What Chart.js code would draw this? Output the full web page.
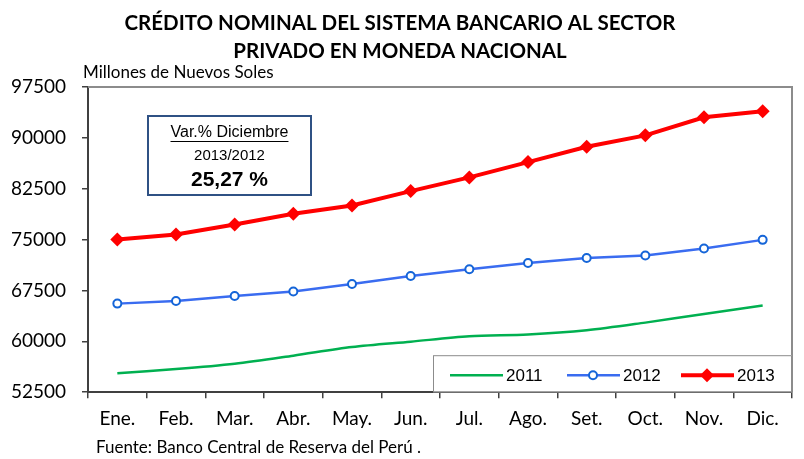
<!DOCTYPE html>
<html>
<head>
<meta charset="utf-8">
<script src="https://cdn.jsdelivr.net/npm/chart.js@4"></script>
<style>
  html, body { margin: 0; padding: 0; background: #fff; }
  #wrap { width: 804px; height: 459px; position: relative; }
</style>
</head>
<body>
<div id="wrap"><canvas id="lineChart"></canvas></div>
<script>
const months = ['Ene.', 'Feb.', 'Mar.', 'Abr.', 'May.', 'Jun.', 'Jul.', 'Ago.', 'Set.', 'Oct.', 'Nov.', 'Dic.'];
const credit2011 = [55280, 55910, 56710, 57890, 59160, 59950, 60740, 60990, 61620, 62760, 64030, 65270];
const credit2012 = [65560, 65950, 66690, 67340, 68460, 69640, 70630, 71560, 72300, 72650, 73690, 74960];
const credit2013 = [75010, 75750, 77230, 78800, 80030, 82150, 84170, 86430, 88690, 90370, 93030, 93910];
const titleLines = ['CRÉDITO NOMINAL DEL SISTEMA BANCARIO AL SECTOR', 'PRIVADO EN MONEDA NACIONAL'];
const unitLabel = 'Millones de Nuevos Soles';
const sourceLabel = 'Fuente: Banco Central de Reserva del Perú .';
const noteLines = ['Var.% Diciembre', '2013/2012', '25,27 %'];

const calibri = 'Lato, "Open Sans", sans-serif';
const arial = '"Liberation Sans", Arial, sans-serif';

// Textos, recuadro y leyenda dibujados a mano
const extras = {
    id: 'extras',
    afterDatasetsDraw(chart) {
        const ctx = chart.ctx;
        const a = chart.chartArea;
        ctx.save();

        // borde gris del area
        ctx.strokeStyle = '#8c8c8c';
        ctx.lineWidth = 2;
        ctx.beginPath();
        ctx.moveTo(a.left, a.top);
        ctx.lineTo(a.right, a.top);
        ctx.lineTo(a.right, a.bottom);
        ctx.stroke();

        // titulo
        ctx.fillStyle = '#000';
        ctx.textAlign = 'center';
        ctx.textBaseline = 'middle';
        ctx.font = 'bold 20.5px ' + calibri;
        ctx.fillText(titleLines[0], 400, 23);
        ctx.fillText(titleLines[1], 400, 51);

        ctx.textAlign = 'left';
        ctx.font = '17px ' + calibri;
        ctx.fillText(unitLabel, 83, 73);
        ctx.fillText(sourceLabel, 96, 448);

        // recuadro de variacion
        ctx.fillStyle = '#fff';
        ctx.fillRect(148, 116, 163, 79);
        ctx.strokeStyle = '#2f5184';
        ctx.lineWidth = 2;
        ctx.strokeRect(148, 116, 163, 79);
        ctx.fillStyle = '#000';
        ctx.textAlign = 'center';
        ctx.font = '16px ' + arial;
        ctx.fillText(noteLines[0], 229.5, 133);
        const w = ctx.measureText(noteLines[0]).width;
        ctx.lineWidth = 1;
        ctx.strokeStyle = '#000';
        ctx.beginPath();
        ctx.moveTo(229.5 - w / 2, 141.5);
        ctx.lineTo(229.5 + w / 2, 141.5);
        ctx.stroke();
        ctx.font = '15px ' + arial;
        ctx.fillText(noteLines[1], 229.5, 156);
        ctx.font = 'bold 21px ' + arial;
        ctx.fillText(noteLines[2], 229.5, 180);

        // leyenda
        const lx = 433, ly = a.bottom - 37;
        ctx.fillStyle = '#fff';
        ctx.fillRect(lx, ly, a.right - lx, a.bottom - ly);
        ctx.strokeStyle = '#8c8c8c';
        ctx.lineWidth = 1;
        ctx.strokeRect(lx + 0.5, ly + 0.5, a.right - lx - 1, a.bottom - ly - 1);
        const cy = ly + 20;
        const items = chart.data.datasets;
        const xs = [450, 567, 681];
        ctx.font = '17px ' + arial;
        ctx.textAlign = 'left';
        items.forEach((ds, i) => {
            const x0 = xs[i];
            ctx.strokeStyle = ds.borderColor;
            ctx.lineWidth = ds.borderWidth;
            ctx.beginPath();
            ctx.moveTo(x0, cy);
            ctx.lineTo(x0 + 53, cy);
            ctx.stroke();
            const mx = x0 + 26;
            if (ds.pointStyle === 'circle' && ds.pointRadius > 0) {
                ctx.fillStyle = '#fff';
                ctx.strokeStyle = ds.pointBorderColor;
                ctx.lineWidth = 2;
                ctx.beginPath();
                ctx.arc(mx, cy, 4, 0, Math.PI * 2);
                ctx.fill();
                ctx.stroke();
            } else if (ds.pointStyle === 'rectRot') {
                ctx.fillStyle = ds.pointBackgroundColor;
                ctx.beginPath();
                ctx.moveTo(mx, cy - 7);
                ctx.lineTo(mx + 7, cy);
                ctx.lineTo(mx, cy + 7);
                ctx.lineTo(mx - 7, cy);
                ctx.closePath();
                ctx.fill();
            }
            ctx.fillStyle = '#000';
            ctx.fillText(ds.label, x0 + 56, cy + 1);
        });
        ctx.restore();
    }
};

const ctx = document.getElementById('lineChart').getContext('2d');
new Chart(ctx, {
    type: 'line',
    data: {
        labels: months,
        datasets: [
            {
                label: '2011',
                data: credit2011,
                borderColor: '#00b050',
                borderWidth: 2.5,
                pointRadius: 0,
                pointStyle: false,
                tension: 0.3
            },
            {
                label: '2012',
                data: credit2012,
                borderColor: '#3a6cf0',
                borderWidth: 2.5,
                pointStyle: 'circle',
                pointRadius: 4,
                pointBorderWidth: 2,
                pointBorderColor: '#1565d8',
                pointBackgroundColor: '#fff',
                tension: 0
            },
            {
                label: '2013',
                data: credit2013,
                borderColor: '#ff0000',
                borderWidth: 4,
                pointStyle: 'rectRot',
                pointRadius: 7,
                pointBorderWidth: 0,
                pointBackgroundColor: '#ff0000',
                pointBorderColor: '#ff0000',
                tension: 0
            }
        ]
    },
    options: {
        responsive: true,
        maintainAspectRatio: false,
        animation: false,
        layout: { padding: { top: 87, right: 12, bottom: 20, left: 2 } },
        plugins: {
            legend: { display: false },
            title: { display: false },
            tooltip: { enabled: false }
        },
        scales: {
            x: {
                offset: true,
                grid: { display: true, offset: true, drawOnChartArea: false, tickLength: 6, color: '#404040', lineWidth: 1.5 },
                border: { color: '#404040', width: 2 },
                ticks: { color: '#000', font: { family: calibri, size: 19 }, padding: 9, maxRotation: 0, autoSkip: false }
            },
            y: {
                min: 52500,
                max: 97500,
                afterFit: (scale) => { scale.width = 86; },
                grid: { display: true, drawOnChartArea: false, tickLength: 6, color: '#404040', lineWidth: 1.5 },
                border: { color: '#404040', width: 2 },
                ticks: {
                    stepSize: 7500,
                    color: '#000',
                    font: { family: calibri, size: 19 },
                    padding: 16,
                    callback: v => String(v)
                }
            }
        }
    },
    plugins: [extras]
});
</script>
</body>
</html>
